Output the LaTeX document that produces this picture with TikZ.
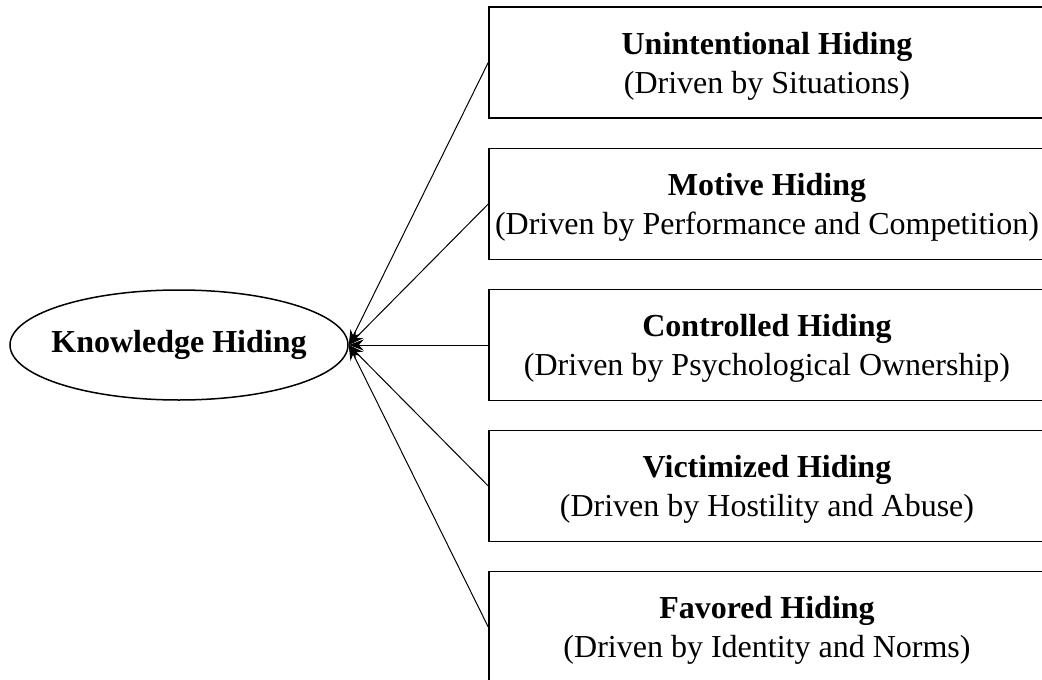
\documentclass[tikz,border=0pt]{standalone}
\usepackage{fontspec}
\setmainfont{Liberation Serif}
\usetikzlibrary{shapes.geometric,arrows.meta}
\begin{document}
\begin{tikzpicture}[x=1pt,y=-1pt,
  every node/.style={font=\fontsize{32}{39}\selectfont},
  box/.style={draw,line width=1.5pt,minimum width=556pt,minimum height=111pt,align=center,inner sep=0pt,text depth=0pt},
  oval/.style={draw,ellipse,line width=1.5pt,minimum width=338pt,minimum height=110pt,inner xsep=-9pt,inner ysep=0pt},
  arr/.style={line width=1pt,-{Stealth[length=15pt,width=11pt]}}]
\useasboundingbox (0,0) rectangle (1042,680);
\clip (0,0) rectangle (1042,680);
\node[oval] (kh) at (179,345) {\textbf{Knowledge Hiding}};
\node[box] (b1) at (767,62.5) {\textbf{Unintentional Hiding}\\(Driven by Situations)};
\node[box] (b2) at (767,204) {\textbf{Motive Hiding}\\(Driven by Performance and Competition)};
\node[box] (b3) at (767,345) {\textbf{Controlled Hiding}\\(Driven by Psychological Ownership)};
\node[box] (b4) at (767,486) {\textbf{Victimized Hiding}\\(Driven by Hostility and Abuse)};
\node[box] (b5) at (767,627) {\textbf{Favored Hiding}\\(Driven by Identity and Norms)};
\foreach \b in {b1,b2,b3,b4,b5}{\draw[arr] (\b.west) -- (kh.east);}
\end{tikzpicture}
\end{document}
